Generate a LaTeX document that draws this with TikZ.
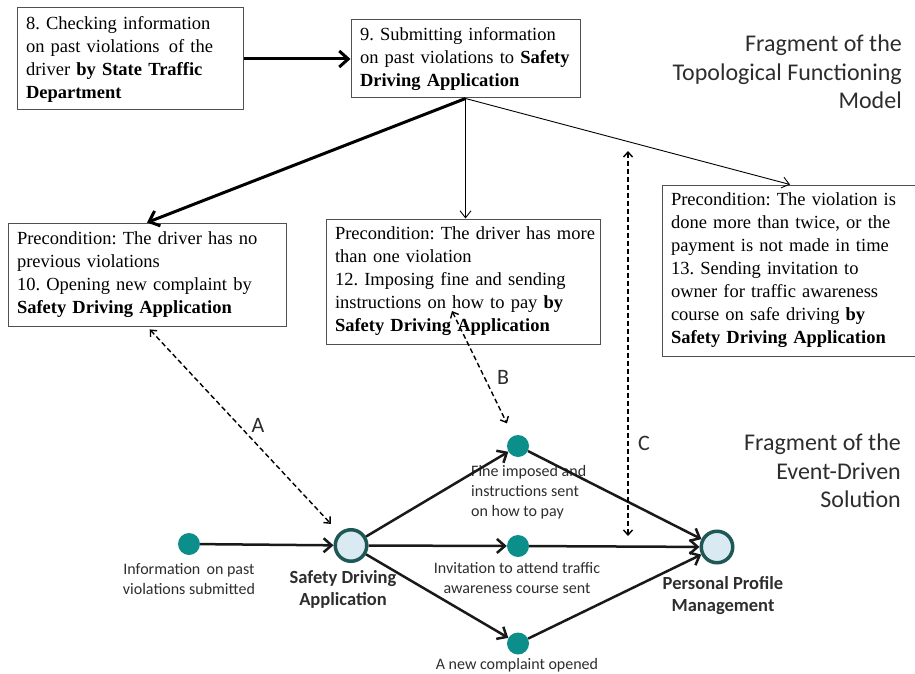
\documentclass[tikz,border=0pt]{standalone}
\usepackage{fontspec}
\setmainfont{Liberation Serif}
\newfontfamily\labelfont{Carlito}
\usetikzlibrary{arrows.meta}
\definecolor{tealdot}{RGB}{12,143,138}
\definecolor{ringline}{RGB}{30,88,84}
\definecolor{ringfill}{RGB}{218,234,242}
\definecolor{boxline}{RGB}{80,80,80}
\definecolor{labeltext}{RGB}{45,45,45}
\frenchspacing

\begin{document}
\begin{tikzpicture}[x=1pt, y=-1pt,
    tfmbox/.style={draw=boxline, line width=1pt, inner xsep=9pt, inner ysep=0pt, align=left, font=\fontsize{18.5}{23}\selectfont},
    event/.style={circle, fill=tealdot, minimum size=22pt, inner sep=0pt},
    handler/.style={circle, draw=ringline, fill=ringfill, line width=3.5pt, minimum size=31.5pt, inner sep=0pt},
    evlabel/.style={font=\labelfont\fontsize{16}{20}\selectfont, text=labeltext, align=center, inner sep=0pt},
    hlabel/.style={font=\labelfont\bfseries\fontsize{18.5}{22}\selectfont, text=labeltext, align=center, inner sep=0pt},
    title/.style={font=\labelfont\fontsize{24}{28.5}\selectfont, text=labeltext, align=right, inner sep=0pt, anchor=east},
    link/.style={font=\labelfont\fontsize{22}{26}\selectfont, text=labeltext, inner sep=0pt},
    flowthick/.style={line width=3pt, arrows={-Straight Barb[length=9pt,width=16pt]}},
    flowthin/.style={line width=0.9pt, arrows={-Straight Barb[length=7pt,width=11pt]}},
    eventflow/.style={line width=2.5pt, draw=black!90, arrows={-Straight Barb[length=8pt,width=14pt]}},
    mapping/.style={line width=1.4pt, dash pattern=on 5pt off 3pt, arrows={Straight Barb[length=5pt,width=9pt]-Straight Barb[length=5pt,width=9pt]}}
]
    \useasboundingbox (0,0) rectangle (915,674);

    % topological functioning model
    \node[tfmbox, text width=208pt, minimum height=102pt] (f8) at (130,59)
        {8. Checking information\\ on past violations\, of the\\ driver \textbf{by State Traffic}\\ \textbf{Department}};
    \node[tfmbox, text width=211pt, minimum height=78pt] (f9) at (465.5,59)
        {9. Submitting information\\ on past violations to \textbf{Safety}\\ \textbf{Driving Application}};
    \node[tfmbox, text width=260pt, minimum height=103pt] (f10) at (147,274.5)
        {Precondition: The driver has no\\ previous violations\\ 10. Opening new complaint by\\ \textbf{Safety Driving Application}};
    \node[tfmbox, text width=256pt, minimum height=125pt] (f12) at (463,281.5)
        {\mbox{Precondition: The driver has more}\\ than one violation\\ 12. Imposing fine and sending\\ instructions on how to pay \textbf{by}\\ \textbf{Safety Driving Application}};
    \node[tfmbox, text width=238pt, minimum height=171pt] (f13) at (790,270.5)
        {Precondition: The violation is\\ done more than twice, or the\\ payment is not made in time\\ 13. Sending invitation to\\ owner for traffic awareness\\ course on safe driving \textbf{by}\\ \textbf{Safety Driving Application}};

    \node[title] (tfmtitle) at (902,72) {Fragment of the\\ Topological Functioning\\ Model};
    \node[title] (edtitle) at (901,471) {Fragment of the\\ Event-Driven\\ Solution};

    \draw[flowthick] (f8) -- (f9);
    \draw[flowthick] (f9.south) -- (f10.north);
    \draw[flowthin] (f9.south) -- (f9.south |- f12.north);
    \draw[flowthin] (f9.south) -- (f13.north);

    % event-driven solution
    \node[event] (info) at (189,544) {};
    \node[handler] (sda) at (351,545.5) {};
    \node[event] (fine) at (518,446) {};
    \node[event] (invite) at (518,546) {};
    \node[event] (complaint) at (518,643.5) {};
    \node[handler] (ppm) at (717,547) {};

    \node[evlabel] (infolbl) at (189,579) {Information\, on past\\ violations submitted};
    \node[hlabel] (sdalbl) at (343,589) {Safety Driving\\ Application};
    \node[evlabel, align=left, anchor=west] (finelbl) at (471,492) {Fine imposed and\\ instructions sent\\ on how to pay};
    \node[evlabel] (invitelbl) at (517,578) {Invitation to attend traffic\\ awareness course sent};
    \node[evlabel] (complaintlbl) at (517,665) {A new complaint opened};
    \node[hlabel] (ppmlbl) at (723,595.5) {Personal Profile\\ Management};

    \draw[eventflow] (info) -- (sda);
    \foreach \ev in {fine, invite, complaint} {
        \draw[eventflow] (sda) -- (\ev);
        \draw[eventflow] (\ev) -- (ppm);
    }

    % mappings between the two fragments
    \coordinate (bTop) at (452,311);
    \coordinate (cTop) at (628,151);
    \coordinate (cBot) at (628,536);
    \draw[mapping, shorten <=4pt, shorten >=12pt] (f10.south) -- (sda);
    \draw[mapping, shorten >=14pt] (bTop) -- (fine);
    \draw[mapping] (cTop) -- (cBot);
    \node[link] (linkA) at (258,425) {A};
    \node[link] (linkB) at (503,377) {B};
    \node[link] (linkC) at (644,443) {C};
\end{tikzpicture}
\end{document}
